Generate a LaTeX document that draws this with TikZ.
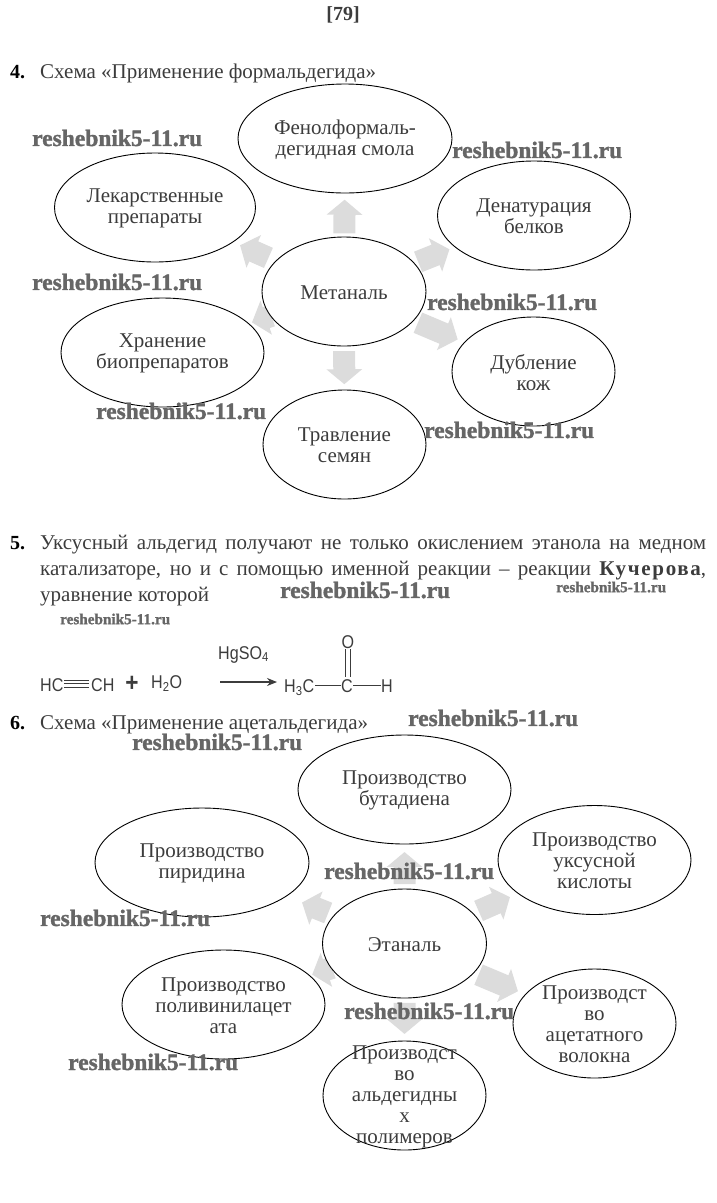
\documentclass[tikz,border=0pt]{standalone}
\usepackage{fontspec}
\setmainfont{Liberation Serif}
\newfontfamily\chemfont[FakeStretch=0.87]{Liberation Sans}
\newfontfamily\wmfont[FakeBold=1.4]{Liberation Serif Bold}
\newfontfamily\spacedfont[LetterSpace=8]{Liberation Serif Bold}
\usetikzlibrary{shapes.geometric,arrows.meta,calc}
\pgfdeclarelayer{background}
\pgfsetlayers{background,main}
\definecolor{inkc}{HTML}{3C3C3C}
\definecolor{fatc}{HTML}{DCDCDC}
\definecolor{wmc}{HTML}{666666}
\tikzset{
  x=1pt,y=-1pt,
  oval/.style={ellipse,draw=black,line width=0.9pt,fill=white,inner sep=0pt},
  txt/.style={font=\fontsize{21}{21}\selectfont,text=inkc,align=center,inner sep=0pt,yshift=-1pt},
  line/.style={font=\fontsize{21}{21}\selectfont,text=inkc,anchor=base west,inner sep=0pt},
  num/.style={font=\fontsize{20}{21}\selectfont\bfseries,text=black,anchor=base west,inner sep=0pt},
  wm/.style={font=\fontsize{23.5}{24}\wmfont,text=wmc,anchor=west,inner sep=0pt},
  wmsmall/.style={font=\fontsize{15.2}{16}\wmfont,text=wmc,anchor=west,inner sep=0pt},
  fat/.style={draw=fatc,line width=22pt,line cap=butt,-{Triangle[length=15pt,width=35pt,fill=fatc,sharp]}},
  chem/.style={font=\fontsize{18.5}{20}\chemfont,text=inkc,anchor=base west,inner sep=0pt},
  chembond/.style={draw=inkc,line width=0.9pt},
}
\newcommand{\fatarrow}[4]{\draw[fat] ($(#1.center)!#3!(#2.center)$) -- ($(#1.center)!#4!(#2.center)$);}
\newcommand{\ovalnode}[6]{\node[oval,minimum width=#4pt,minimum height=#5pt,label={[txt]center:#6}] (#1) at (#2,#3) {};}
\begin{document}
\begin{tikzpicture}
\useasboundingbox (0,0) rectangle (717,1203);

\node[font=\fontsize{20}{22}\selectfont\bfseries,text=inkc,inner sep=0pt] (page) at (343,15) {[79]};

\node[num] (n4) at (10,78) {4.};
\node[line] (t4) at (40,78) {Схема «Применение формальдегида»};

% diagram 1
\ovalnode{met}{344}{291.5}{164}{109}{Метаналь}
\ovalnode{fen}{345}{138.5}{214}{109}{Фенолформаль-\\дегидная смола}
\ovalnode{lek}{155}{207.5}{201}{109}{Лекарственные\\препараты}
\ovalnode{den}{534}{215.5}{193}{109}{Денатурация\\белков}
\ovalnode{xra}{162.5}{352.5}{203}{109}{Хранение\\биопрепаратов}
\ovalnode{dub}{533.5}{371.5}{163}{109}{Дубление\\кож}
\ovalnode{tra}{344.5}{444.5}{163}{109}{Травление\\семян}
\begin{pgfonlayer}{background}
\fatarrow{met}{fen}{.38}{.60}
\fatarrow{met}{lek}{.40}{.55}
\fatarrow{met}{den}{.39}{.555}
\fatarrow{met}{dub}{.39}{.60}
\fatarrow{met}{tra}{.39}{.606}
\fatarrow{met}{xra}{.40}{.507}
\end{pgfonlayer}

% paragraph 5
\node[num] (n5) at (10,549) {5.};
\node[line] (p1) at (40,549) {\makebox[666pt][s]{Уксусный альдегид получают не только окислением этанола на медном}};
\node[line] (p2) at (40,575) {\makebox[666pt][s]{катализаторе, но и с помощью именной реакции – реакции {\spacedfont Кучерова},}};
\node[line] (p3) at (40,601) {уравнение которой};

% reaction
\node[chem] (hc) at (40,691) {HC};
\coordinate (tl) at (64,683.5);
\coordinate (tr) at (89,683.5);
\draw[chembond] ($(tl)+(0,-3.5)$) -- ($(tr)+(0,-3.5)$);
\draw[chembond] (tl) -- (tr);
\draw[chembond] ($(tl)+(0,3.5)$) -- ($(tr)+(0,3.5)$);
\node[chem] (ch) at (91,691) {CH};
\node[font=\fontsize{26}{26}\bfseries\chemfont,text=inkc,inner sep=0pt] (plus) at (132,684) {+};
\node[chem] (h2o) at (151,688) {H\textsubscript{2}O};
\node[chem] (hg) at (218,659) {HgSO\textsubscript{4}};
\coordinate (ra) at (220,682);
\coordinate (rb) at (277,682);
\draw[inkc,line width=1.3pt,-{Stealth[length=10pt,width=8pt]}] (ra) -- (rb);
\node[chem] (h3c) at (284,692) {H\textsubscript{3}C};
\node[chem,anchor=base] (cc) at (347,692) {C};
\node[chem,anchor=base] (hh) at (387,692) {H};
\node[chem,anchor=base] (oo) at (348,648) {O};
\draw[chembond] (h3c.east |- cc.center) ++(1,0) coordinate (b1a) -- (cc.west |- b1a);
\draw[chembond] (cc.east |- cc.center) -- (hh.west |- cc.center);
\draw[chembond] ($(oo.south)+(-2.2,1)$) -- ($(oo.south)+(-2.2,29)$);
\draw[chembond] ($(oo.south)+(2.2,1)$) -- ($(oo.south)+(2.2,29)$);

% heading 6
\node[num] (n6) at (10,729) {6.};
\node[line] (t6) at (40,729) {Схема «Применение ацетальдегида»};

% diagram 2
\ovalnode{eta}{404.5}{943.5}{164}{109}{Этаналь}
\ovalnode{but}{404.5}{789.5}{213}{109}{Производство\\бутадиена}
\ovalnode{pir}{202}{862.5}{214}{109}{Производство\\пиридина}
\ovalnode{uks}{594.5}{860}{193}{109}{Производство\\уксусной\\кислоты}
\ovalnode{pol}{223.5}{1004.5}{203}{109}{Производство\\поливинилацет\\ата}
\ovalnode{ace}{594.5}{1023.5}{163}{109}{Производст\\во\\ацетатного\\волокна}
\ovalnode{ald}{404.5}{1095.5}{163}{109}{Производст\\во\\альдегидны\\х\\полимеров}
\begin{pgfonlayer}{background}
\fatarrow{eta}{but}{.386}{.594}
\fatarrow{eta}{pir}{.377}{.506}
\fatarrow{eta}{uks}{.39}{.555}
\fatarrow{eta}{ace}{.39}{.597}
\fatarrow{eta}{ald}{.39}{.595}
\fatarrow{eta}{pol}{.40}{.51}
\end{pgfonlayer}

% watermarks
\node[wm] (w1) at (32,138) {reshebnik5-11.ru};
\node[wm] (w2) at (452,150) {reshebnik5-11.ru};
\node[wm] (w3) at (32,282) {reshebnik5-11.ru};
\node[wm] (w4) at (427,302) {reshebnik5-11.ru};
\node[wm] (w5) at (96,411) {reshebnik5-11.ru};
\node[wm] (w6) at (424,430) {reshebnik5-11.ru};
\node[wm] (w7) at (280,590) {reshebnik5-11.ru};
\node[wmsmall] (w8) at (556,587) {reshebnik5-11.ru};
\node[wmsmall] (w9) at (60,619) {reshebnik5-11.ru};
\node[wm] (w10) at (408,718) {reshebnik5-11.ru};
\node[wm] (w11) at (132,742) {reshebnik5-11.ru};
\node[wm] (w12) at (324,871) {reshebnik5-11.ru};
\node[wm] (w13) at (40,918) {reshebnik5-11.ru};
\node[wm] (w14) at (344,1011) {reshebnik5-11.ru};
\node[wm] (w15) at (68,1062) {reshebnik5-11.ru};
\end{tikzpicture}
\end{document}
